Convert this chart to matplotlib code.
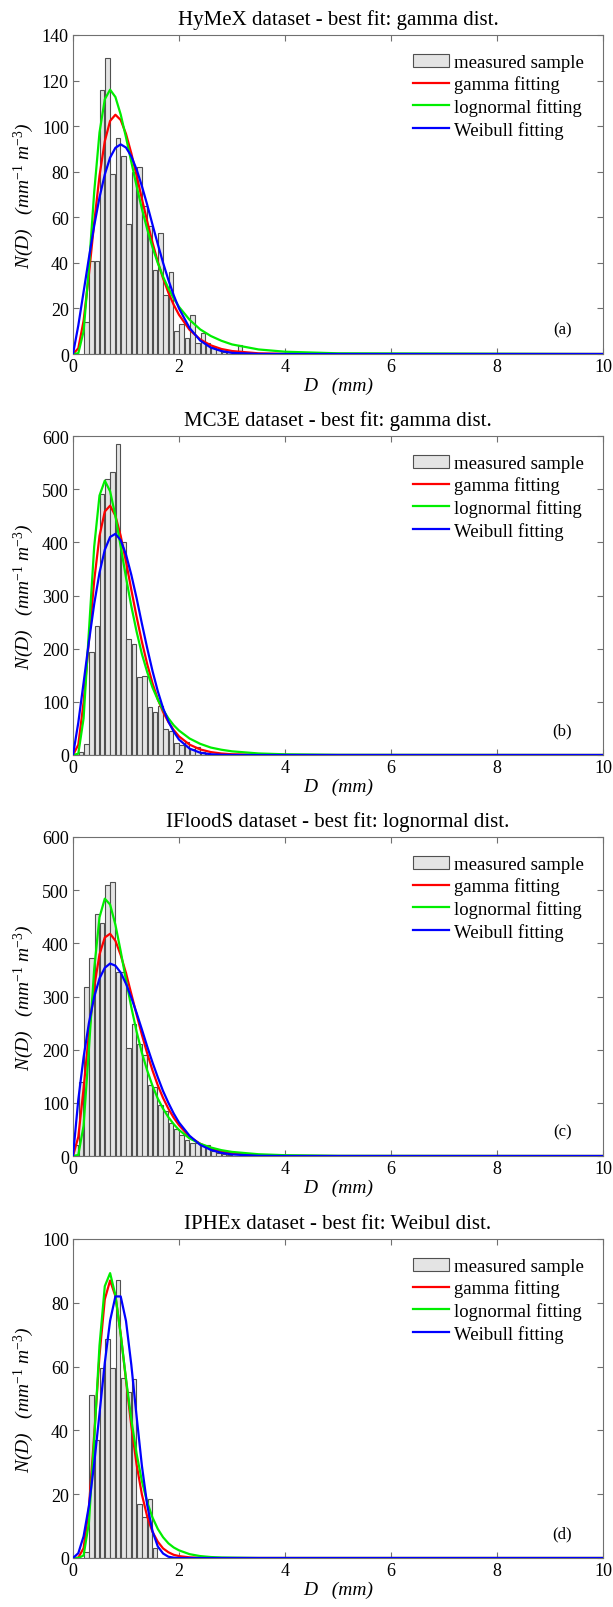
import matplotlib
matplotlib.use('Agg')
import matplotlib.pyplot as plt
from matplotlib.ticker import MultipleLocator

plt.rcParams['font.family'] = ['Liberation Serif', 'DejaVu Serif']
plt.rcParams['mathtext.fontset'] = 'custom'
plt.rcParams['mathtext.rm'] = 'Liberation Serif'
plt.rcParams['mathtext.it'] = 'Liberation Serif:italic'
plt.rcParams['mathtext.default'] = 'it'

# ---------------- data ----------------
titles = ["HyMeX dataset - best fit: gamma dist.",
          "MC3E dataset - best fit: gamma dist.",
          "IFloodS dataset - best fit: lognormal dist.",
          "IPHEx dataset - best fit: Weibul dist."]
panel_tags = ["(a)", "(b)", "(c)", "(d)"]
ymax = [140, 600, 600, 100]
ystep = [20, 100, 100, 20]

# fitted-curve sample diameters (mm)
d_curve = [0.0, 0.1, 0.2, 0.3, 0.4, 0.5, 0.6, 0.7, 0.8, 0.9, 1.0,
           1.1, 1.2, 1.3, 1.4, 1.5, 1.6, 1.7, 1.8, 1.9, 2.0,
           2.2, 2.4, 2.6, 2.8, 3.0, 3.5, 4.0, 5.0, 10.0]

# ---- (a) HyMeX
hymex_centers = [0.25, 0.35, 0.45, 0.55, 0.65, 0.75, 0.85, 0.95, 1.05, 1.15,
                 1.25, 1.35, 1.45, 1.55, 1.65, 1.75, 1.85, 1.95, 2.05, 2.15,
                 2.25, 2.35, 2.45, 2.55, 2.65, 2.75, 2.85, 2.95, 3.05, 3.15]
hymex_counts = [14, 41, 41, 116, 130, 79, 95, 87, 57, 80,
                82, 65, 56, 37, 53, 26, 36, 10, 13, 7,
                17, 5, 9, 5, 3, 2, 1, 1, 0.5, 4]
hymex_gamma = [0, 2.5, 14.6, 34.8, 57.7, 78.2, 93.4, 102.3, 105, 102.7, 96.6,
               88.1, 78.3, 68.1, 58.2, 48.9, 40.5, 33.2, 26.9, 21.6, 17.2,
               10.6, 6.4, 3.8, 2.2, 1.3, 0.3, 0.07, 0, 0]
hymex_lognormal = [0, 0.3, 10, 37.8, 71.1, 97.2, 111.8, 116, 112.8, 105.1, 95.1,
                   84.3, 73.7, 63.7, 54.8, 46.8, 39.9, 33.9, 28.8, 24.4, 20.7,
                   15.0, 10.8, 7.9, 5.8, 4.2, 2.0, 1.0, 0.3, 0]
hymex_weibull = [0, 12.5, 27.3, 42.2, 56.3, 68.7, 78.8, 86.2, 90.5, 92, 90.6,
                 86.8, 81.0, 73.7, 65.5, 56.8, 48.2, 40.0, 32.5, 25.8, 20.0,
                 11.4, 5.9, 2.8, 1.3, 0.5, 0.03, 0, 0, 0]

# ---- (b) MC3E
mc3e_centers = [0.15, 0.25, 0.35, 0.45, 0.55, 0.65, 0.75, 0.85, 0.95, 1.05,
                1.15, 1.25, 1.35, 1.45, 1.55, 1.65, 1.75, 1.85, 1.95, 2.05,
                2.15, 2.25, 2.35, 2.45, 2.55]
mc3e_counts = [5, 20, 193, 243, 491, 519, 532, 585, 400, 218,
               209, 146, 149, 90, 80, 92, 49, 46, 22, 18,
               25, 12, 15, 6, 3]
mc3e_gamma = [0, 19.3, 99.2, 215, 328, 412, 458, 469, 450, 412, 364,
              311, 260, 213, 171, 135, 105, 81, 62, 47, 35,
              19.5, 10.5, 5.5, 2.8, 1.4, 0.3, 0.05, 0, 0]
mc3e_lognormal = [0, 2.5, 69, 232, 392, 488, 516, 496, 450, 392, 334,
                  280, 232, 190, 156, 127, 104, 85, 69, 56, 46,
                  31, 21, 14, 9.9, 6.9, 2.9, 1.3, 0.3, 0]
mc3e_weibull = [0, 61, 136, 213, 284, 343, 386, 410, 416, 404, 377,
                339, 295, 247, 201, 158, 120, 88, 63, 44, 29,
                12, 4.3, 1.4, 0.4, 0.1, 0, 0, 0, 0]

# ---- (c) IFloodS
ifloods_centers = [0.05, 0.15, 0.25, 0.35, 0.45, 0.55, 0.65, 0.75, 0.85, 0.95,
                   1.05, 1.15, 1.25, 1.35, 1.45, 1.55, 1.65, 1.75, 1.85, 1.95,
                   2.05, 2.15, 2.25, 2.35, 2.45, 2.55, 2.65, 2.75, 2.85, 2.95]
ifloods_counts = [20, 139, 318, 372, 456, 439, 510, 515, 347, 347,
                  204, 248, 211, 190, 133, 130, 95, 85, 63, 50,
                  40, 30, 25, 25, 20, 20, 10, 6, 4, 2]
ifloods_gamma = [0, 36, 127, 230, 318, 379, 411, 418, 405, 378, 344,
                 305, 266, 228, 193, 161, 133, 109, 89, 72, 58,
                 36, 23, 14, 8.3, 5.0, 1.3, 0.3, 0, 0]
ifloods_lognormal = [0, 1.9, 57, 201, 352, 449, 484, 473, 435, 385, 331,
                     280, 234, 194, 161, 132, 108, 89, 73, 60, 49,
                     33, 23, 16, 11, 7.7, 3.3, 1.5, 0.3, 0]
ifloods_weibull = [0, 106, 186, 250, 299, 334, 354, 362, 358, 345, 324,
                   298, 269, 238, 206, 176, 148, 122, 100, 80, 63,
                   38, 21, 11.5, 5.9, 2.9, 0.4, 0, 0, 0]

# ---- (d) IPHEx
iphex_centers = [0.25, 0.35, 0.45, 0.55, 0.65, 0.75, 0.85, 0.95, 1.05, 1.15,
                 1.25, 1.35, 1.45, 1.55]
iphex_counts = [2, 51, 37, 59.5, 68.6, 59.5, 87, 56.5, 52, 56,
                17, 13, 18.5, 3]
iphex_gamma = [0, 0.1, 3.1, 15.7, 38.6, 63.5, 81.1, 87, 82.1, 70.3, 55.7,
               41.5, 29.3, 19.9, 13.0, 8.2, 5.1, 3.0, 1.8, 1.0, 0.6,
               0.2, 0.05, 0, 0, 0, 0, 0, 0, 0]
iphex_lognormal = [0, 0, 0.8, 11.0, 37.1, 66.6, 85.2, 89.3, 82.4, 70.0, 56.2,
                   43.4, 32.7, 24.1, 17.5, 12.7, 9.1, 6.5, 4.6, 3.3, 2.4,
                   1.2, 0.6, 0.3, 0.15, 0.1, 0, 0, 0, 0]
iphex_weibull = [0, 1.5, 6.8, 16.3, 29.6, 45.3, 61.2, 74.4, 82.0, 82.0, 74.3,
                 60.6, 44.4, 28.9, 16.6, 8.4, 3.6, 1.4, 0.4, 0.1, 0,
                 0, 0, 0, 0, 0, 0, 0, 0, 0]

panels = [
    (hymex_centers, hymex_counts, hymex_gamma, hymex_lognormal, hymex_weibull),
    (mc3e_centers, mc3e_counts, mc3e_gamma, mc3e_lognormal, mc3e_weibull),
    (ifloods_centers, ifloods_counts, ifloods_gamma, ifloods_lognormal, ifloods_weibull),
    (iphex_centers, iphex_counts, iphex_gamma, iphex_lognormal, iphex_weibull),
]

# ---------------- figure ----------------
W, H = 613, 1608
fig = plt.figure(figsize=(W / 100, H / 100), dpi=100)

ax_left = 73 / W
ax_w = 530 / W
ax_h = 319 / H
ax_bottoms_px = [355, 756, 1157, 1559]

FS = 13
spine_col = '#707070'
for i, (cen, cnt, g, ln, wb) in enumerate(panels):
    ax = fig.add_axes([ax_left, 1 - ax_bottoms_px[i] / H, ax_w, ax_h])
    bars = ax.bar(cen, cnt, width=0.085, color='#e4e4e4', edgecolor='#505050',
                  linewidth=0.8, label='measured sample', zorder=2)
    l1, = ax.plot(d_curve, g, color='#ff0000', lw=1.6, label='gamma fitting', zorder=3)
    l2, = ax.plot(d_curve, ln, color='#00ee00', lw=1.6, label='lognormal fitting', zorder=4)
    l3, = ax.plot(d_curve, wb, color='#0000ff', lw=1.6, label='Weibull fitting', zorder=5)
    ax.set_xlim(0, 10)
    ax.set_ylim(0, ymax[i])
    ax.xaxis.set_major_locator(MultipleLocator(2))
    ax.yaxis.set_major_locator(MultipleLocator(ystep[i]))
    ax.tick_params(direction='in', top=True, right=True, length=4, width=0.8,
                   color=spine_col, labelsize=FS, pad=3)
    for s in ax.spines.values():
        s.set_color(spine_col)
        s.set_linewidth(0.8)
    ax.set_title(titles[i], fontsize=15, pad=8)
    ax.set_xlabel('D   (mm)', fontsize=FS + 1, style='italic', labelpad=1)
    ax.set_ylabel('N(D)   (mm$^{-1}$ m$^{-3}$)', fontsize=FS + 1, style='italic', labelpad=4)
    ax.text(0.923, 0.078, panel_tags[i], transform=ax.transAxes, fontsize=12,
            ha='center', va='center')
    ax.legend(handles=[bars, l1, l2, l3], loc='upper right', frameon=False,
              fontsize=FS + 0.5, handlelength=1.9, handletextpad=0.3,
              labelspacing=0.25, borderaxespad=0.6)

fig.savefig('out.png', dpi=100)
